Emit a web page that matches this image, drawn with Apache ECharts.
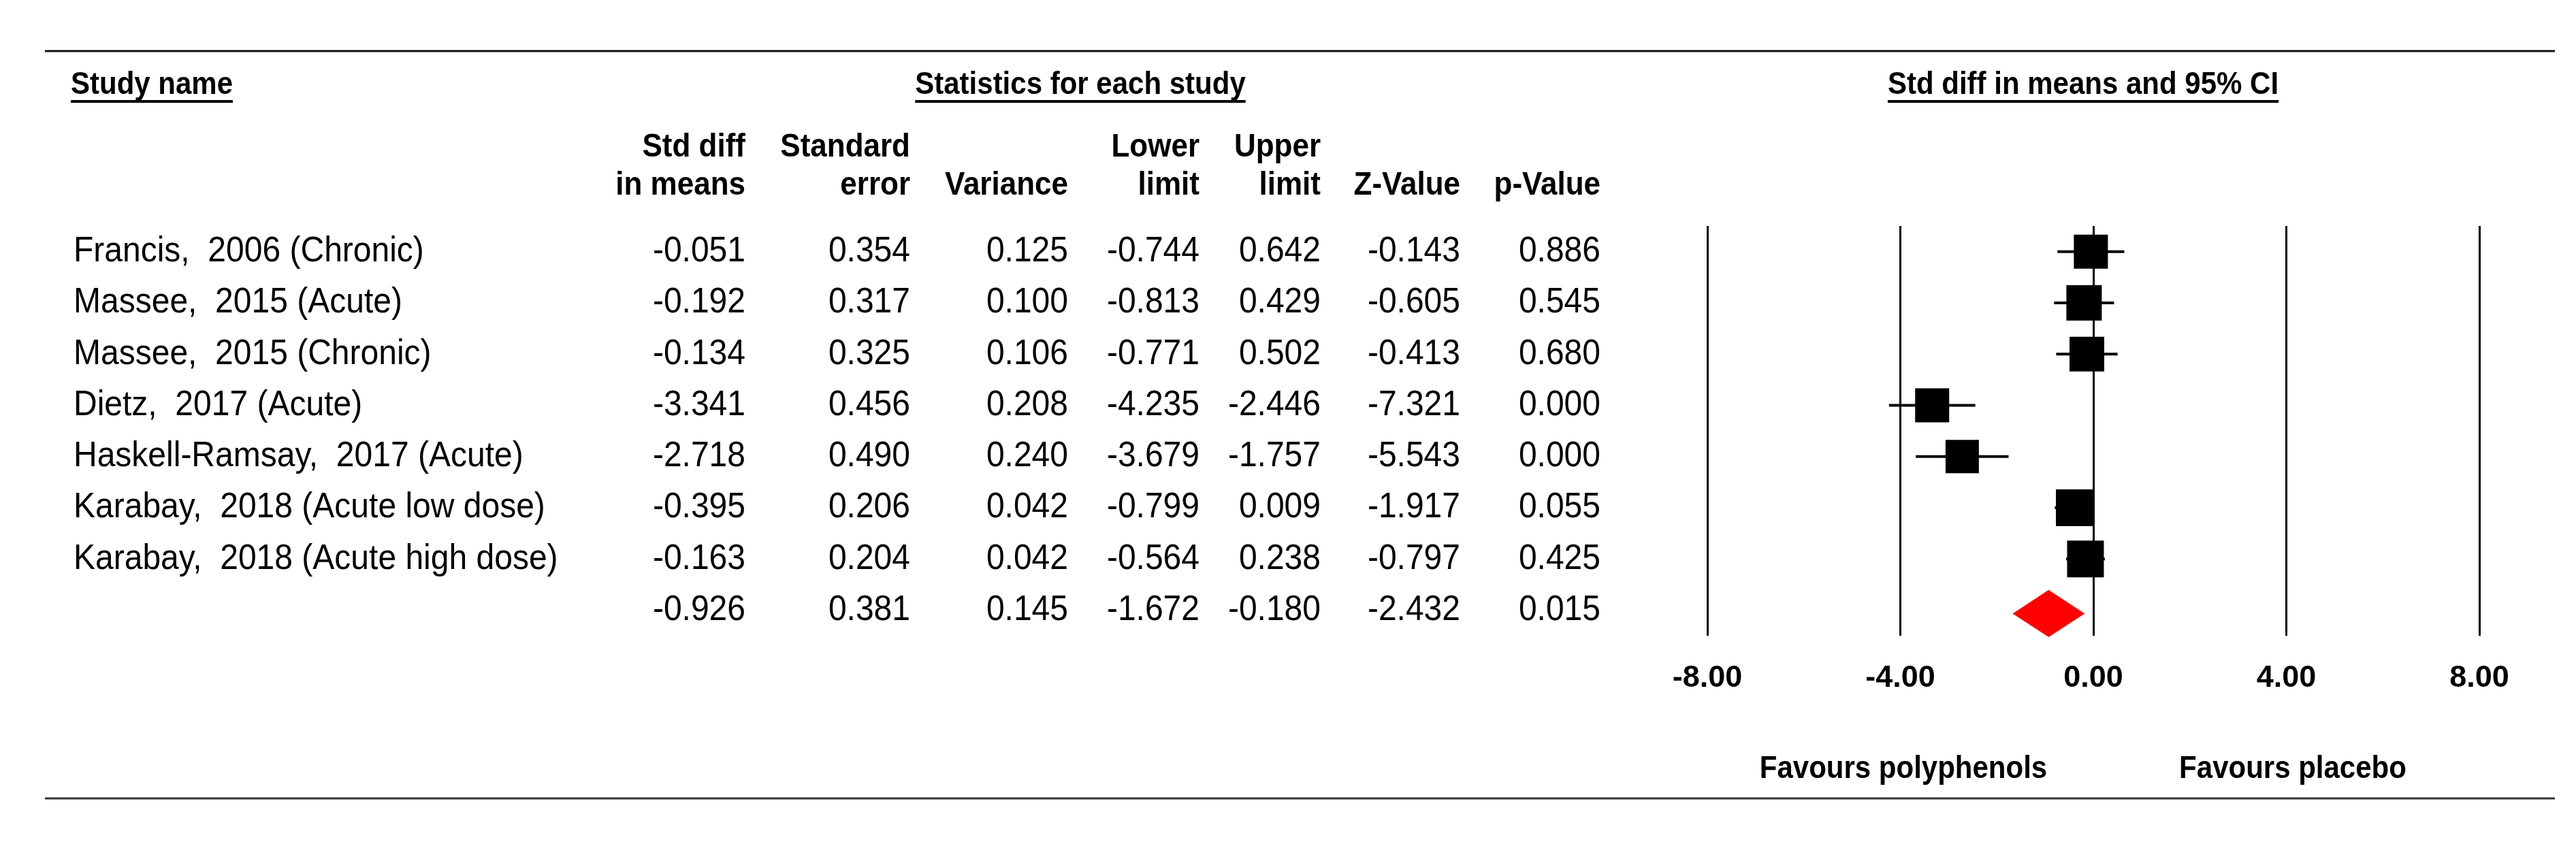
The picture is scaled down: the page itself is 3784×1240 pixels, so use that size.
<!DOCTYPE html>
<html>
<head>
<meta charset="utf-8">
<script src="https://cdn.jsdelivr.net/npm/echarts@6/dist/echarts.min.js"></script>
<style>
html, body { margin: 0; padding: 0; background: #fff; }
#main { width: 3784px; height: 1240px; }
</style>
</head>
<body>
<div id="main"></div>
<script>
// table rows (last row = pooled estimate, no name)
var studyNames = ['Francis,  2006 (Chronic)', 'Massee,  2015 (Acute)', 'Massee,  2015 (Chronic)', 'Dietz,  2017 (Acute)',
	'Haskell-Ramsay,  2017 (Acute)', 'Karabay,  2018 (Acute low dose)', 'Karabay,  2018 (Acute high dose)', ''];
var stdDiff = [-0.051, -0.192, -0.134, -3.341, -2.718, -0.395, -0.163, -0.926];
var stdErr = [0.354, 0.317, 0.325, 0.456, 0.490, 0.206, 0.204, 0.381];
var variance = [0.125, 0.100, 0.106, 0.208, 0.240, 0.042, 0.042, 0.145];
var lowerLimit = [-0.744, -0.813, -0.771, -4.235, -3.679, -0.799, -0.564, -1.672];
var upperLimit = [0.642, 0.429, 0.502, -2.446, -1.757, 0.009, 0.238, -0.180];
var zValue = [-0.143, -0.605, -0.413, -7.321, -5.543, -1.917, -0.797, -2.432];
var pValue = [0.886, 0.545, 0.680, 0.000, 0.000, 0.055, 0.425, 0.015];
var colHead1 = ['Std diff', 'Standard', '', 'Lower', 'Upper', '', ''];
var colHead2 = ['in means', 'error', 'Variance', 'limit', 'limit', 'Z-Value', 'p-Value'];
var xTicks = [-8, -4, 0, 4, 8];

var FONT = 'Liberation Sans, Arial, sans-serif';
var BODY = '48px ' + FONT;
var BOLD = 'bold 44px ' + FONT;
var HEAD = 'bold 42px ' + FONT;
var TALL = 1.09; // the original glyphs are a bit narrow / tall

var colRight = [1095, 1337, 1569, 1762, 1940, 2145, 2351]; // right edge of each number column
var tableCols = [stdDiff, stdErr, variance, lowerLimit, upperLimit, zValue, pValue];
var boxSize = [50, 52, 51, 50, 49, 54, 54];
var nStudies = 7;

var chart = echarts.init(document.getElementById('main'));

// measure header width for the underline
var ctx = document.createElement('canvas').getContext('2d');
function textW(txt, font) {
	ctx.font = font;
	return ctx.measureText(txt).width;
}

function txt(t, x, y, font, align) {
	return {
		type: 'text', x: x, y: y, scaleY: TALL, silent: true,
		style: { text: t, font: font, fill: '#000', align: align, verticalAlign: 'middle', textAlign: align, textVerticalAlign: 'middle' }
	};
}
function hline(x1, x2, y, w, c) {
	return { type: 'line', silent: true, shape: { x1: x1, y1: y, x2: x2, y2: y }, style: { stroke: c, lineWidth: w } };
}

var graphics = [];
graphics.push(hline(66, 3753, 75, 3, '#111'));
graphics.push(hline(66, 3753, 1173, 3, '#333'));

// section headers, underlined
var heads = [
	['Study name', 104, 'left'],
	['Statistics for each study', 1587, 'center'],
	['Std diff in means and 95% CI', 3060, 'center']
];
heads.forEach(function(h) {
	var w = textW(h[0], HEAD);
	var x0 = h[2] == 'left' ? h[1] : h[1] - w / 2;
	graphics.push(txt(h[0], h[1], 125, HEAD, h[2]));
	graphics.push(hline(x0, x0 + w, 149, 4, '#000'));
});

// column headers
for(var c = 0; c < colRight.length; c++) {
	if(colHead1[c]) graphics.push(txt(colHead1[c], colRight[c], 217, BOLD, 'right'));
	graphics.push(txt(colHead2[c], colRight[c], 273, BOLD, 'right'));
}

graphics.push(txt('Favours polyphenols', 2796, 1130, HEAD, 'center'));
graphics.push(txt('Favours placebo', 3368, 1130, HEAD, 'center'));

var rowIdx = studyNames.map(function(n, i) { return i; });

var option = {
	animation: false,
	backgroundColor: '#fff',
	grid: [
		{ left: 2508, right: 142, top: 332, bottom: 306 },	// forest plot
		{ left: 0, right: 0, top: 332, bottom: 306 }		// table, x in pixels
	],
	xAxis: [{
		gridIndex: 0,
		type: 'value',
		min: xTicks[0],
		max: xTicks[xTicks.length - 1],
		interval: xTicks[1] - xTicks[0],
		axisLine: { show: false },
		axisTick: { show: false },
		splitLine: { show: true, lineStyle: { color: '#000', width: 3 } },
		axisLabel: {
			margin: 40,
			color: '#000',
			fontFamily: FONT,
			fontWeight: 'bold',
			fontSize: 45,
			formatter: function(v) { return v.toFixed(2); }
		}
	}, {
		gridIndex: 1,
		type: 'value',
		min: 0,
		max: 3784,
		show: false
	}],
	yAxis: [{
		gridIndex: 0,
		type: 'category',
		data: rowIdx,
		inverse: true,
		show: false
	}, {
		gridIndex: 1,
		type: 'category',
		data: rowIdx,
		inverse: true,
		show: false
	}],
	graphic: graphics,
	series: [{
		// table text
		type: 'custom',
		xAxisIndex: 1,
		yAxisIndex: 1,
		silent: true,
		encode: { x: 0, y: 1 },
		data: rowIdx.map(function(i) { return [0, i]; }),
		renderItem: function(params, api) {
			var i = api.value(1);
			var y = api.coord([0, i])[1];
			var kids = [txt(studyNames[i], api.coord([108, i])[0], y, BODY, 'left')];
			for(var c = 0; c < tableCols.length; c++) {
				kids.push(txt(tableCols[c][i].toFixed(3), api.coord([colRight[c], i])[0], y, BODY, 'right'));
			}
			return { type: 'group', children: kids };
		}
	}, {
		// confidence intervals
		type: 'custom',
		silent: true,
		encode: { x: [0, 1], y: 2 },
		data: rowIdx.slice(0, nStudies).map(function(i) { return [lowerLimit[i], upperLimit[i], i]; }),
		renderItem: function(params, api) {
			var p1 = api.coord([api.value(0), api.value(2)]);
			var p2 = api.coord([api.value(1), api.value(2)]);
			return {
				type: 'line',
				shape: { x1: p1[0], y1: p1[1], x2: p2[0], y2: p2[1] },
				style: { stroke: '#000', lineWidth: 4 }
			};
		}
	}, {
		// study point estimates
		type: 'scatter',
		silent: true,
		symbol: 'rect',
		symbolSize: function(v, p) { return boxSize[p.dataIndex]; },
		itemStyle: { color: '#000', opacity: 1 },
		data: rowIdx.slice(0, nStudies).map(function(i) { return [stdDiff[i], i]; }),
		z: 3
	}, {
		// pooled diamond
		type: 'custom',
		silent: true,
		encode: { x: [0, 1, 2], y: 3 },
		data: [[lowerLimit[7], stdDiff[7], upperLimit[7], 7]],
		renderItem: function(params, api) {
			var row = api.value(3);
			var l = api.coord([api.value(0), row]);
			var m = api.coord([api.value(1), row]);
			var r = api.coord([api.value(2), row]);
			var h = api.size([0, 1])[1] * 0.46;
			var cy = m[1] + 5;
			return {
				type: 'polygon',
				shape: { points: [[l[0], cy], [m[0], cy - h], [r[0], cy], [m[0], cy + h]] },
				style: { fill: '#ff0000' }
			};
		},
		z: 3
	}]
};

chart.setOption(option);
</script>
</body>
</html>
